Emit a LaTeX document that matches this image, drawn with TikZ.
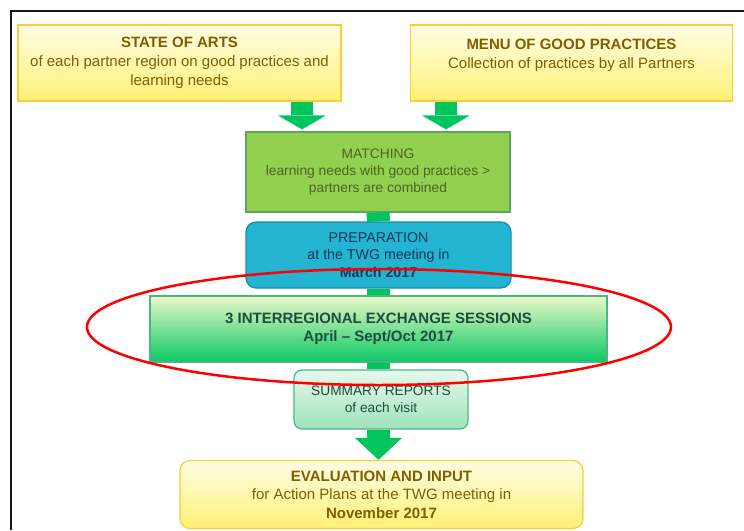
\documentclass[tikz,border=0pt]{standalone}
\usepackage{fontspec}
\setmainfont{Liberation Sans}
\usetikzlibrary{arrows.meta}

\definecolor{paleyellow}{HTML}{FFFDE4}
\definecolor{boxyellow}{HTML}{FFF176}
\definecolor{edgeyellow}{HTML}{FFCC33}
\definecolor{textyellow}{HTML}{7F6000}
\definecolor{matchgreen}{HTML}{92D050}
\definecolor{matchedge}{HTML}{5FA65A}
\definecolor{matchtext}{HTML}{4F6228}
\definecolor{prepblue}{HTML}{22B4D1}
\definecolor{prepedge}{HTML}{1B8DA8}
\definecolor{preptext}{HTML}{17375E}
\definecolor{palegreen}{HTML}{EAF8C8}
\definecolor{deepgreen}{HTML}{0AC864}
\definecolor{exchedge}{HTML}{4DB585}
\definecolor{exchtext}{HTML}{1E4D3C}
\definecolor{mintpale}{HTML}{E8F8EE}
\definecolor{mintgreen}{HTML}{9EE3BA}
\definecolor{bargreen}{HTML}{00C45E}

\begin{document}
\begin{tikzpicture}[x=1pt,y=-1pt,
    yellowbox/.style={draw=edgeyellow, line width=1.2pt, top color=paleyellow, bottom color=boxyellow,
        text=textyellow, align=center, inner sep=0pt, font=\fontsize{15}{19}\selectfont},
    bar/.style={draw=bargreen, line width=23pt},
    blockarrow/.style={draw=bargreen, line width=22pt, -{Triangle[length=14pt, width=48pt, line width=0pt]}}]
    \useasboundingbox (0,0) rectangle (744,530);

    % frame
    \draw [line width=2.5pt, black!90] (11,530) -- (11,11) -- (744,11);

    % boxes
    \node [yellowbox, minimum width=323pt, minimum height=76pt] (state) at (179.5,63)
        {\textbf{STATE OF ARTS}\\of each partner region on good practices and\\learning needs};
    \node [yellowbox, minimum width=322pt, minimum height=76pt] (menu) at (571.5,63)
        {\textbf{MENU OF GOOD PRACTICES}\\Collection of practices by all Partners\\\mbox{}};
    \node [draw=matchedge, line width=1.2pt, fill=matchgreen, text=matchtext, align=center, inner sep=0pt,
        minimum width=264pt, minimum height=80pt, font=\fontsize{13.8}{17}\selectfont] (match) at (378,172)
        {MATCHING\\learning needs with good practices >\\partners are combined};
    \node [draw=prepedge, line width=1.2pt, fill=prepblue, text=preptext, align=center, inner sep=0pt,
        rounded corners=10pt, minimum width=265pt, minimum height=66pt, font=\fontsize{14.2}{17.5}\selectfont] (prep) at (378.5,255)
        {PREPARATION\\at the TWG meeting in\\\textbf{March 2017}};
    \node [draw=exchedge, line width=1.2pt, top color=palegreen, bottom color=deepgreen, text=exchtext, align=center, inner sep=0pt,
        minimum width=457pt, minimum height=66pt, font=\bfseries\fontsize{15}{18}\selectfont] (exch) at (378.5,329)
        {3 INTERREGIONAL EXCHANGE SESSIONS\\April -- Sept/Oct 2017};
    \node [draw=exchedge, line width=1.2pt, top color=mintpale, bottom color=mintgreen, text=exchtext, align=center, inner sep=0pt,
        rounded corners=8pt, minimum width=174pt, minimum height=59pt, font=\fontsize{13.7}{17}\selectfont] (summary) at (381,399.5)
        {SUMMARY REPORTS\\of each visit};
    \node [yellowbox, rounded corners=10pt, minimum width=403pt, minimum height=68pt, font=\fontsize{15}{18.5}\selectfont] (eval) at (381.5,494.5)
        {\textbf{EVALUATION AND INPUT}\\for Action Plans at the TWG meeting in\\\textbf{November 2017}};

    % arrows and bars
    \draw [blockarrow] ([xshift=-76pt]match.north |- state.south) -- ([xshift=-76pt,yshift=2pt]match.north);
    \draw [blockarrow] ([xshift=68pt]match.north |- menu.south) -- ([xshift=68pt,yshift=2pt]match.north);
    \draw [bar] (match.south) -- (prep.north);
    \draw [bar] (prep.south) -- (exch.north);
    \draw [bar] (exch.south) -- (exch.south |- summary.north);
    \draw [draw=bargreen, line width=23pt, -{Triangle[length=22pt, width=47pt, line width=0pt]}]
        (exch.south |- summary.south) -- (exch.south |- eval.north);

    % highlight
    \draw [red, line width=2.5pt] (379,327) ellipse [x radius=292, y radius=58];
\end{tikzpicture}
\end{document}
